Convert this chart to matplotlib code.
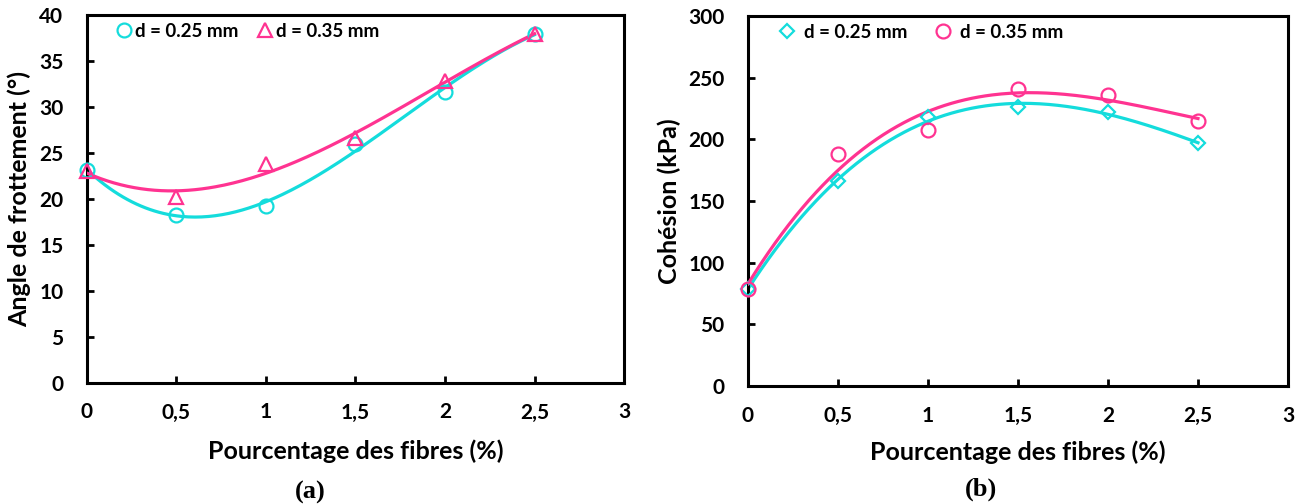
import numpy as np
import matplotlib
matplotlib.use('Agg')
import matplotlib.pyplot as plt

plt.rcParams['font.family'] = ['Lato', 'DejaVu Sans']
plt.rcParams['font.weight'] = 'bold'

# fibre content (%)
fibres = [0, 0.5, 1, 1.5, 2, 2.5]

# (a) friction angle (deg)
phi_025 = [23.2, 18.3, 19.2, 26.0, 31.6, 38.0]
phi_035 = [23.0, 20.2, 23.8, 26.6, 32.8, 38.0]

# (b) cohesion (kPa)
coh_025 = [79, 166, 218, 226, 222, 197]
coh_035 = [79, 188, 208, 241, 236, 215]

labels = ['d = 0.25 mm', 'd = 0.35 mm']
xticks = [0, 0.5, 1, 1.5, 2, 2.5, 3]
xticklabels = ['0', '0,5', '1', '1,5', '2', '2,5', '3']

cyan = '#14DCDC'
pink = '#FF3391'


def trend(x, y, deg):
    # excel-like polynomial trendline
    c = np.polyfit(x, y, deg)
    xx = np.linspace(min(x), max(x), 200)
    return xx, np.polyval(c, xx)


def style_axes(ax, ymax, ystep, ylabel, ylx, xly):
    ax.set_xlim(0, 3)
    ax.set_ylim(0, ymax)
    ax.set_xticks(xticks)
    ax.set_xticklabels(xticklabels)
    ax.set_yticks(np.arange(0, ymax + 1, ystep))
    ax.tick_params(direction='in', length=5, width=2, labelsize=15)
    ax.tick_params(axis='x', pad=14)
    ax.tick_params(axis='y', pad=17)
    for s in ax.spines.values():
        s.set_linewidth(2.2)
    ax.set_xlabel('Pourcentage des fibres (%)', fontsize=18, fontweight='bold')
    ax.set_ylabel(ylabel, fontsize=18, fontweight='bold')
    ax.xaxis.set_label_coords(0.5, xly)
    ax.yaxis.set_label_coords(ylx, 0.5)


fig = plt.figure(figsize=(13.06, 5.04), dpi=100)

ax1 = fig.add_axes([0.0666, 0.240, 0.4112, 0.730])
xx, yy = trend(fibres, phi_025, 3)
ax1.plot(xx, yy, color=cyan, lw=2.3, zorder=2)
xx, yy = trend(fibres, phi_035, 3)
ax1.plot(xx, yy, color=pink, lw=2.3, zorder=3)
ax1.plot(fibres, phi_025, 'o', ms=10, mfc='none', mec=cyan, mew=1.6,
         label=labels[0], zorder=4, clip_on=False)
ax1.plot(fibres, phi_035, '^', ms=10, mfc='none', mec=pink, mew=1.6,
         label=labels[1], zorder=4, clip_on=False)
style_axes(ax1, 40, 5, 'Angle de frottement (°)', -0.104, -0.152)
ax1.legend(loc='upper left', bbox_to_anchor=(0.023, 1.025), ncol=2, frameon=False,
           handlelength=0.8, handletextpad=0.2, columnspacing=1.0,
           prop={'size': 13.5, 'weight': 'bold'})

ax2 = fig.add_axes([0.5727, 0.234, 0.4135, 0.734])
xx, yy = trend(fibres, coh_025, 3)
ax2.plot(xx, yy, color=cyan, lw=2.3, zorder=2)
xx, yy = trend(fibres, coh_035, 3)
ax2.plot(xx, yy, color=pink, lw=2.3, zorder=3)
ax2.plot(fibres, coh_025, 'D', ms=7.5, mfc='none', mec=cyan, mew=1.6,
         label=labels[0], zorder=4, clip_on=False)
ax2.plot(fibres, coh_035, 'o', ms=10, mfc='none', mec=pink, mew=1.6,
         label=labels[1], zorder=4, clip_on=False)
style_axes(ax2, 300, 50, 'Cohésion (kPa)', -0.124, -0.148)
ax2.legend(loc='upper left', bbox_to_anchor=(0.028, 1.025), ncol=2, frameon=False,
           handlelength=0.8, handletextpad=0.5, columnspacing=1.5,
           prop={'size': 13.5, 'weight': 'bold'})

fig.text(310 / 1306, 1 - 492 / 504, '(a)', ha='center', va='center',
         family='Liberation Serif', fontweight='bold', fontsize=19)
fig.text(981 / 1306, 1 - 489 / 504, '(b)', ha='center', va='center',
         family='Liberation Serif', fontweight='bold', fontsize=19)

fig.savefig('out.png', dpi=100)
